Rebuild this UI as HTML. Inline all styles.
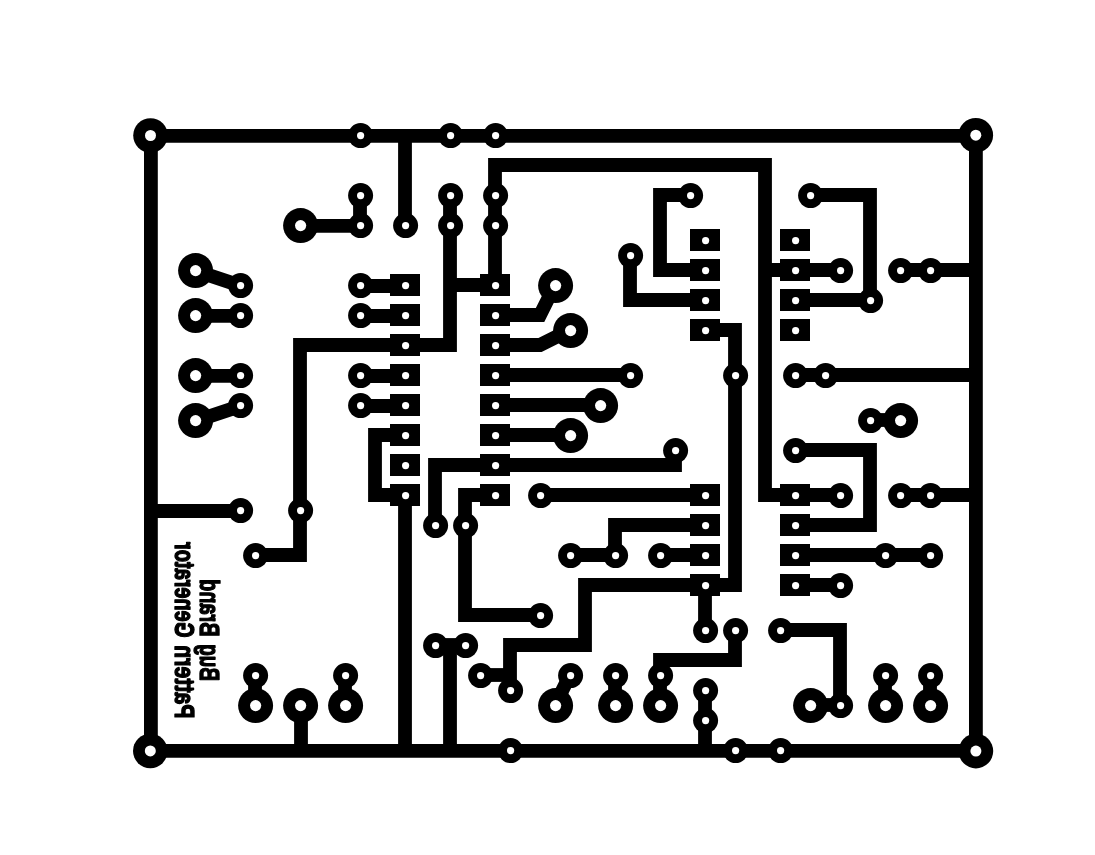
<!DOCTYPE html>
<html lang="en"><head><meta charset="utf-8"><title>Pattern Generator - Bug Brand</title>
<style>html,body{margin:0;padding:0;background:#fff;overflow:hidden}svg{display:block}.t{fill:none;stroke:#000;stroke-width:13.8;stroke-linejoin:miter;stroke-linecap:butt}.n{fill:none;stroke:#000;stroke-width:13.6;stroke-linecap:butt}.h{fill:#fff}text{font-family:"Liberation Sans",sans-serif;font-weight:bold;fill:#000}</style></head><body>
<svg width="1095" height="855" viewBox="0 0 1095 855">
<rect width="1095" height="855" fill="#fff"/>
<g transform="translate(0.6,0.6)">
<g class="t">
<polyline points="150.3,135.3 975.3,135.3 975.3,750.3 150.3,750.3 150.3,135.3 160.3,135.3"/>
<polyline points="404.4,134.4 404.4,224.4"/>
<polyline points="359.4,194.4 359.4,224.4"/>
<polyline points="449.4,194.4 449.4,344.4 299.4,344.4 299.4,554.4 254.4,554.4"/>
<polyline points="449.4,284.4 494.4,284.4"/>
<polyline points="494.4,284.4 494.4,164.4 764.4,164.4 764.4,494.4 794.4,494.4"/>
<polyline points="359.4,285.4 404.4,285.4"/>
<polyline points="359.4,315.4 404.4,315.4"/>
<polyline points="359.4,375.4 404.4,375.4"/>
<polyline points="359.4,405.4 404.4,405.4"/>
<polyline points="404.4,434.4 374.4,434.4 374.4,494.4 404.4,494.4 404.4,749.4"/>
<polyline points="149.4,510.4 239.4,510.4"/>
<polyline points="494.4,314.4 539.4,314.4 554.4,284.4"/>
<polyline points="494.4,344.4 539.4,344.4 569.4,329.4"/>
<polyline points="494.4,374.4 629.4,374.4"/>
<polyline points="494.4,404.4 599.4,404.4"/>
<polyline points="494.4,434.4 569.4,434.4"/>
<polyline points="434.4,524.4 434.4,464.4 674.4,464.4 674.4,449.4"/>
<polyline points="494.4,494.4 464.4,494.4 464.4,614.4 539.4,614.4"/>
<polyline points="539.4,494.4 704.4,494.4"/>
<polyline points="689.4,194.4 659.4,194.4 659.4,269.4 704.4,269.4"/>
<polyline points="629.4,254.4 629.4,299.4 704.4,299.4"/>
<polyline points="704.4,329.4 734.4,329.4 734.4,584.4 584.4,584.4 584.4,644.4 509.4,644.4 509.4,689.4"/>
<polyline points="479.4,674.4 509.4,674.4"/>
<polyline points="764.4,269.4 839.4,269.4"/>
<polyline points="794.4,299.4 869.4,299.4"/>
<polyline points="809.4,194.4 869.4,194.4 869.4,299.4"/>
<polyline points="899.4,269.4 974.4,269.4"/>
<polyline points="794.4,374.4 974.4,374.4"/>
<polyline points="869.4,419.4 899.4,419.4"/>
<polyline points="794.4,449.4 869.4,449.4 869.4,524.4 794.4,524.4"/>
<polyline points="794.4,494.4 839.4,494.4"/>
<polyline points="899.4,494.4 974.4,494.4"/>
<polyline points="794.4,554.4 929.4,554.4"/>
<polyline points="794.4,584.4 839.4,584.4"/>
<polyline points="704.4,524.4 614.4,524.4 614.4,554.4"/>
<polyline points="569.4,554.4 614.4,554.4"/>
<polyline points="659.4,554.4 704.4,554.4"/>
<polyline points="704.4,584.4 704.4,629.4"/>
<polyline points="734.4,629.4 734.4,659.4 659.4,659.4 659.4,704.4"/>
<polyline points="779.4,629.4 839.4,629.4 839.4,704.4"/>
<polyline points="809.4,704.4 839.4,704.4"/>
<polyline points="884.4,674.4 884.4,704.4"/>
<polyline points="929.4,674.4 929.4,704.4"/>
<polyline points="704.4,689.4 704.4,749.4"/>
<polyline points="254.4,674.4 254.4,704.4"/>
<polyline points="300.4,704.4 300.4,749.4"/>
<polyline points="344.4,674.4 344.4,704.4"/>
<polyline points="569.4,674.4 554.4,704.4"/>
<polyline points="614.4,674.4 614.4,704.4"/>
<polyline points="434.4,644.4 464.4,644.4"/>
<polyline points="449.4,644.4 449.4,749.4"/>
<polyline points="300.3,225.3 360.3,225.3"/>
<polyline points="195.3,270.3 240.3,285.3"/>
<polyline points="195.3,315.3 240.3,315.3"/>
<polyline points="195.3,375.3 240.3,375.3"/>
<polyline points="195.3,420.3 240.3,405.3"/>
</g><g>
</g><g>
<rect x="389.4" y="273.4" width="30" height="22"/>
<rect x="389.4" y="303.4" width="30" height="22"/>
<rect x="389.4" y="333.4" width="30" height="22"/>
<rect x="389.4" y="363.4" width="30" height="22"/>
<rect x="389.4" y="393.4" width="30" height="22"/>
<rect x="389.4" y="423.4" width="30" height="22"/>
<rect x="389.4" y="453.4" width="30" height="22"/>
<rect x="389.4" y="483.4" width="30" height="22"/>
<rect x="479.4" y="273.4" width="30" height="22"/>
<rect x="479.4" y="303.4" width="30" height="22"/>
<rect x="479.4" y="333.4" width="30" height="22"/>
<rect x="479.4" y="363.4" width="30" height="22"/>
<rect x="479.4" y="393.4" width="30" height="22"/>
<rect x="479.4" y="423.4" width="30" height="22"/>
<rect x="479.4" y="453.4" width="30" height="22"/>
<rect x="479.4" y="483.4" width="30" height="22"/>
<rect x="689.4" y="228.4" width="30" height="22"/>
<rect x="689.4" y="258.4" width="30" height="22"/>
<rect x="689.4" y="288.4" width="30" height="22"/>
<rect x="689.4" y="318.4" width="30" height="22"/>
<rect x="689.4" y="483.4" width="30" height="22"/>
<rect x="689.4" y="513.4" width="30" height="22"/>
<rect x="689.4" y="543.4" width="30" height="22"/>
<rect x="689.4" y="573.4" width="30" height="22"/>
<rect x="779.4" y="228.4" width="30" height="22"/>
<rect x="779.4" y="258.4" width="30" height="22"/>
<rect x="779.4" y="288.4" width="30" height="22"/>
<rect x="779.4" y="318.4" width="30" height="22"/>
<rect x="779.4" y="483.4" width="30" height="22"/>
<rect x="779.4" y="513.4" width="30" height="22"/>
<rect x="779.4" y="543.4" width="30" height="22"/>
<rect x="779.4" y="573.4" width="30" height="22"/>
<circle cx="360" cy="135" r="12.5"/>
<circle cx="450" cy="135" r="12.5"/>
<circle cx="495" cy="135" r="12.5"/>
<circle cx="360" cy="195" r="12.5"/>
<circle cx="360" cy="225" r="12.5"/>
<circle cx="405" cy="225" r="12.5"/>
<circle cx="450" cy="195" r="12.5"/>
<circle cx="450" cy="225" r="12.5"/>
<circle cx="495" cy="195" r="12.5"/>
<circle cx="495" cy="225" r="12.5"/>
<circle cx="240" cy="285" r="12.5"/>
<circle cx="240" cy="315" r="12.5"/>
<circle cx="240" cy="375" r="12.5"/>
<circle cx="240" cy="405" r="12.5"/>
<circle cx="360" cy="285" r="12.5"/>
<circle cx="360" cy="315" r="12.5"/>
<circle cx="360" cy="375" r="12.5"/>
<circle cx="360" cy="405" r="12.5"/>
<circle cx="240" cy="510" r="12.5"/>
<circle cx="300" cy="510" r="12.5"/>
<circle cx="255" cy="555" r="12.5"/>
<circle cx="435" cy="525" r="12.5"/>
<circle cx="465" cy="525" r="12.5"/>
<circle cx="540" cy="495" r="12.5"/>
<circle cx="540" cy="615" r="12.5"/>
<circle cx="630" cy="375" r="12.5"/>
<circle cx="675" cy="450" r="12.5"/>
<circle cx="690" cy="195" r="12.5"/>
<circle cx="630" cy="255" r="12.5"/>
<circle cx="735" cy="375" r="12.5"/>
<circle cx="810" cy="195" r="12.5"/>
<circle cx="840" cy="270" r="12.5"/>
<circle cx="870" cy="300" r="12.5"/>
<circle cx="900" cy="270" r="12.5"/>
<circle cx="930" cy="270" r="12.5"/>
<circle cx="795" cy="375" r="12.5"/>
<circle cx="825" cy="375" r="12.5"/>
<circle cx="870" cy="420" r="12.5"/>
<circle cx="795" cy="450" r="12.5"/>
<circle cx="840" cy="495" r="12.5"/>
<circle cx="900" cy="495" r="12.5"/>
<circle cx="930" cy="495" r="12.5"/>
<circle cx="885" cy="555" r="12.5"/>
<circle cx="930" cy="555" r="12.5"/>
<circle cx="840" cy="585" r="12.5"/>
<circle cx="570" cy="555" r="12.5"/>
<circle cx="615" cy="555" r="12.5"/>
<circle cx="660" cy="555" r="12.5"/>
<circle cx="705" cy="630" r="12.5"/>
<circle cx="735" cy="630" r="12.5"/>
<circle cx="780" cy="630" r="12.5"/>
<circle cx="840" cy="705" r="12.5"/>
<circle cx="885" cy="675" r="12.5"/>
<circle cx="930" cy="675" r="12.5"/>
<circle cx="705" cy="690" r="12.5"/>
<circle cx="705" cy="720" r="12.5"/>
<circle cx="510" cy="750" r="12.5"/>
<circle cx="735" cy="750" r="12.5"/>
<circle cx="780" cy="750" r="12.5"/>
<circle cx="255" cy="675" r="12.5"/>
<circle cx="345" cy="675" r="12.5"/>
<circle cx="570" cy="675" r="12.5"/>
<circle cx="615" cy="675" r="12.5"/>
<circle cx="660" cy="675" r="12.5"/>
<circle cx="435" cy="645" r="12.5"/>
<circle cx="465" cy="645" r="12.5"/>
<circle cx="480" cy="675" r="12.5"/>
<circle cx="510" cy="690" r="12.5"/>
<circle cx="300" cy="225" r="17.5"/>
<circle cx="195" cy="270" r="17.5"/>
<circle cx="195" cy="315" r="17.5"/>
<circle cx="195" cy="375" r="17.5"/>
<circle cx="195" cy="420" r="17.5"/>
<circle cx="555" cy="285" r="17.5"/>
<circle cx="570" cy="330" r="17.5"/>
<circle cx="600" cy="405" r="17.5"/>
<circle cx="570" cy="435" r="17.5"/>
<circle cx="900" cy="420" r="17.5"/>
<circle cx="255" cy="705" r="17.5"/>
<circle cx="300" cy="705" r="17.5"/>
<circle cx="345" cy="705" r="17.5"/>
<circle cx="555" cy="705" r="17.5"/>
<circle cx="615" cy="705" r="17.5"/>
<circle cx="660" cy="705" r="17.5"/>
<circle cx="810" cy="705" r="17.5"/>
<circle cx="885" cy="705" r="17.5"/>
<circle cx="930" cy="705" r="17.5"/>
<circle cx="149.9" cy="134.9" r="17.3"/>
<circle cx="975.2" cy="134.6" r="17.3"/>
<circle cx="149.7" cy="750.3" r="17.3"/>
<circle cx="975.3" cy="750.5" r="17.3"/>
</g><g class="h">
<circle cx="405" cy="285" r="3.6"/>
<circle cx="405" cy="315" r="3.6"/>
<circle cx="405" cy="345" r="3.6"/>
<circle cx="405" cy="375" r="3.6"/>
<circle cx="405" cy="405" r="3.6"/>
<circle cx="405" cy="435" r="3.6"/>
<circle cx="405" cy="465" r="3.6"/>
<circle cx="405" cy="495" r="3.6"/>
<circle cx="495" cy="285" r="3.6"/>
<circle cx="495" cy="315" r="3.6"/>
<circle cx="495" cy="345" r="3.6"/>
<circle cx="495" cy="375" r="3.6"/>
<circle cx="495" cy="405" r="3.6"/>
<circle cx="495" cy="435" r="3.6"/>
<circle cx="495" cy="465" r="3.6"/>
<circle cx="495" cy="495" r="3.6"/>
<circle cx="705" cy="240" r="3.6"/>
<circle cx="705" cy="270" r="3.6"/>
<circle cx="705" cy="300" r="3.6"/>
<circle cx="705" cy="330" r="3.6"/>
<circle cx="705" cy="495" r="3.6"/>
<circle cx="705" cy="525" r="3.6"/>
<circle cx="705" cy="555" r="3.6"/>
<circle cx="705" cy="585" r="3.6"/>
<circle cx="795" cy="240" r="3.6"/>
<circle cx="795" cy="270" r="3.6"/>
<circle cx="795" cy="300" r="3.6"/>
<circle cx="795" cy="330" r="3.6"/>
<circle cx="795" cy="495" r="3.6"/>
<circle cx="795" cy="525" r="3.6"/>
<circle cx="795" cy="555" r="3.6"/>
<circle cx="795" cy="585" r="3.6"/>
<circle cx="360" cy="135" r="3.6"/>
<circle cx="450" cy="135" r="3.6"/>
<circle cx="495" cy="135" r="3.6"/>
<circle cx="360" cy="195" r="3.6"/>
<circle cx="360" cy="225" r="3.6"/>
<circle cx="405" cy="225" r="3.6"/>
<circle cx="450" cy="195" r="3.6"/>
<circle cx="450" cy="225" r="3.6"/>
<circle cx="495" cy="195" r="3.6"/>
<circle cx="495" cy="225" r="3.6"/>
<circle cx="240" cy="285" r="3.6"/>
<circle cx="240" cy="315" r="3.6"/>
<circle cx="240" cy="375" r="3.6"/>
<circle cx="240" cy="405" r="3.6"/>
<circle cx="360" cy="285" r="3.6"/>
<circle cx="360" cy="315" r="3.6"/>
<circle cx="360" cy="375" r="3.6"/>
<circle cx="360" cy="405" r="3.6"/>
<circle cx="240" cy="510" r="3.6"/>
<circle cx="300" cy="510" r="3.6"/>
<circle cx="255" cy="555" r="3.6"/>
<circle cx="435" cy="525" r="3.6"/>
<circle cx="465" cy="525" r="3.6"/>
<circle cx="540" cy="495" r="3.6"/>
<circle cx="540" cy="615" r="3.6"/>
<circle cx="630" cy="375" r="3.6"/>
<circle cx="675" cy="450" r="3.6"/>
<circle cx="690" cy="195" r="3.6"/>
<circle cx="630" cy="255" r="3.6"/>
<circle cx="735" cy="375" r="3.6"/>
<circle cx="810" cy="195" r="3.6"/>
<circle cx="840" cy="270" r="3.6"/>
<circle cx="870" cy="300" r="3.6"/>
<circle cx="900" cy="270" r="3.6"/>
<circle cx="930" cy="270" r="3.6"/>
<circle cx="795" cy="375" r="3.6"/>
<circle cx="825" cy="375" r="3.6"/>
<circle cx="870" cy="420" r="3.6"/>
<circle cx="795" cy="450" r="3.6"/>
<circle cx="840" cy="495" r="3.6"/>
<circle cx="900" cy="495" r="3.6"/>
<circle cx="930" cy="495" r="3.6"/>
<circle cx="885" cy="555" r="3.6"/>
<circle cx="930" cy="555" r="3.6"/>
<circle cx="840" cy="585" r="3.6"/>
<circle cx="570" cy="555" r="3.6"/>
<circle cx="615" cy="555" r="3.6"/>
<circle cx="660" cy="555" r="3.6"/>
<circle cx="705" cy="630" r="3.6"/>
<circle cx="735" cy="630" r="3.6"/>
<circle cx="780" cy="630" r="3.6"/>
<circle cx="840" cy="705" r="3.6"/>
<circle cx="885" cy="675" r="3.6"/>
<circle cx="930" cy="675" r="3.6"/>
<circle cx="705" cy="690" r="3.6"/>
<circle cx="705" cy="720" r="3.6"/>
<circle cx="510" cy="750" r="3.6"/>
<circle cx="735" cy="750" r="3.6"/>
<circle cx="780" cy="750" r="3.6"/>
<circle cx="255" cy="675" r="3.6"/>
<circle cx="345" cy="675" r="3.6"/>
<circle cx="570" cy="675" r="3.6"/>
<circle cx="615" cy="675" r="3.6"/>
<circle cx="660" cy="675" r="3.6"/>
<circle cx="435" cy="645" r="3.6"/>
<circle cx="465" cy="645" r="3.6"/>
<circle cx="480" cy="675" r="3.6"/>
<circle cx="510" cy="690" r="3.6"/>
<circle cx="300" cy="225" r="5.6"/>
<circle cx="195" cy="270" r="5.6"/>
<circle cx="195" cy="315" r="5.6"/>
<circle cx="195" cy="375" r="5.6"/>
<circle cx="195" cy="420" r="5.6"/>
<circle cx="555" cy="285" r="5.6"/>
<circle cx="570" cy="330" r="5.6"/>
<circle cx="600" cy="405" r="5.6"/>
<circle cx="570" cy="435" r="5.6"/>
<circle cx="900" cy="420" r="5.6"/>
<circle cx="255" cy="705" r="5.6"/>
<circle cx="300" cy="705" r="5.6"/>
<circle cx="345" cy="705" r="5.6"/>
<circle cx="555" cy="705" r="5.6"/>
<circle cx="615" cy="705" r="5.6"/>
<circle cx="660" cy="705" r="5.6"/>
<circle cx="810" cy="705" r="5.6"/>
<circle cx="885" cy="705" r="5.6"/>
<circle cx="930" cy="705" r="5.6"/>
<circle cx="149.9" cy="134.9" r="5.5"/>
<circle cx="975.2" cy="134.6" r="5.5"/>
<circle cx="149.7" cy="750.3" r="5.5"/>
<circle cx="975.3" cy="750.5" r="5.5"/>
</g>
<g font-size="27.5" stroke="#000" stroke-width="1.4" stroke-linejoin="round" transform="translate(-0.6,-0.6)" style="will-change:transform;mix-blend-mode:multiply">
<text transform="matrix(0,-1,-1,0,174.6,718.4)" textLength="73" lengthAdjust="spacingAndGlyphs">Pattern</text>
<text transform="matrix(0,-1,-1,0,174.6,637.4)" textLength="95.5" lengthAdjust="spacingAndGlyphs">Generator</text>
<text transform="matrix(0,-1,-1,0,200,681.1)" textLength="37" lengthAdjust="spacingAndGlyphs">Bug</text>
<text transform="matrix(0,-1,-1,0,200,636.4)" textLength="57.1" lengthAdjust="spacingAndGlyphs">Brand</text>
</g>
</g></svg></body></html>
